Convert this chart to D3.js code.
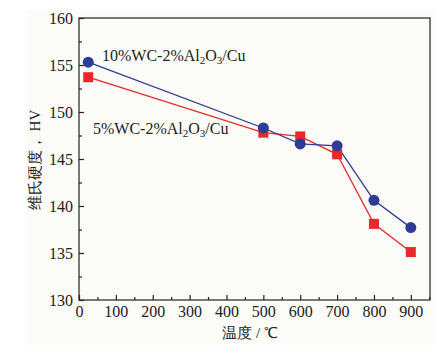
<!DOCTYPE html>
<html><head><meta charset="utf-8">
<script src="https://cdn.jsdelivr.net/npm/d3@7"></script>
<style>body{margin:0;background:#fff}svg text{font-family:"Liberation Serif","Times New Roman",serif;fill:#222}</style>
</head><body><svg id="c" width="441" height="357"></svg>
<script>
const temps = [25, 500, 600, 700, 800, 900];
const hv10 = [155.3, 148.3, 146.6, 146.4, 140.6, 137.7];
const hv5 = [153.7, 147.8, 147.4, 145.5, 138.1, 135.1];
const xTicks = [0,100,200,300,400,500,600,700,800,900];
const yTicks = [130,135,140,145,150,155,160];

const svg = d3.select("#c");
const m = {l:79, r:430, t:18, b:300};
const x = d3.scaleLinear().domain([0, 952]).range([m.l, m.r]);
const y = d3.scaleLinear().domain([130, 160]).range([m.b, m.t]);

svg.append("rect").attr("x",27).attr("y",10).attr("width",406).attr("height",335).attr("fill","#fbfbf8");

// frame
svg.append("rect").attr("x",m.l).attr("y",m.t).attr("width",m.r-m.l).attr("height",m.b-m.t)
  .attr("fill","none").attr("stroke","#222").attr("stroke-width",1.2);

// x axis
const xa = svg.append("g").attr("transform",`translate(0,${m.b})`)
  .call(d3.axisBottom(x).tickValues(xTicks).tickSize(-5).tickFormat(d3.format("d")));
const xm = svg.append("g").attr("transform",`translate(0,${m.b})`)
  .call(d3.axisBottom(x).tickValues(d3.range(50,951,100)).tickSize(-3).tickFormat(""));
[xa,xm].forEach(g=>{g.select(".domain").remove();g.selectAll("line").attr("stroke","#222").attr("stroke-width",1.2);});
xa.selectAll("text").attr("y",6).attr("font-size","16px").attr("fill","#222");

// y axis
const ya = svg.append("g").attr("transform",`translate(${m.l},0)`)
  .call(d3.axisLeft(y).tickValues(yTicks).tickSize(-5));
const ym = svg.append("g").attr("transform",`translate(${m.l},0)`)
  .call(d3.axisLeft(y).tickValues(d3.range(132.5,160,5)).tickSize(-3).tickFormat(""));
[ya,ym].forEach(g=>{g.select(".domain").remove();g.selectAll("line").attr("stroke","#222").attr("stroke-width",1.2);});
ya.selectAll("text").attr("x",-6).attr("font-size","16px").attr("fill","#222");

// labels
svg.append("text").attr("x",250).attr("y",338).attr("text-anchor","middle").attr("font-size","15px")
  .text("温度 / ℃");
svg.append("text").attr("transform","translate(40,160) rotate(-90)").attr("text-anchor","middle").attr("font-size","15px")
  .text("维氏硬度， HV");

const line = d3.line().x((d,i)=>x(temps[i])).y(d=>y(d));
const blue = "#2d3c94", red = "#e8282b";
svg.append("path").datum(hv5).attr("d",line).attr("fill","none").attr("stroke",red).attr("stroke-width",1.3);
svg.append("path").datum(hv10).attr("d",line).attr("fill","none").attr("stroke",blue).attr("stroke-width",1.3);
svg.selectAll(".sq").data(hv5).enter().append("rect")
  .attr("x",(d,i)=>x(temps[i])-5).attr("y",d=>y(d)-5).attr("width",10).attr("height",10).attr("fill",red);
svg.selectAll(".ci").data(hv10).enter().append("circle")
  .attr("cx",(d,i)=>x(temps[i])).attr("cy",d=>y(d)).attr("r",5.5).attr("fill",blue);

function label(tx, ty, pre){
  const t = svg.append("text").attr("x",tx).attr("y",ty).attr("font-size","16px");
  t.append("tspan").text(pre+"WC-2%Al");
  t.append("tspan").attr("font-size","11px").attr("dy",3).text("2");
  t.append("tspan").attr("dy",-3).text("O");
  t.append("tspan").attr("font-size","11px").attr("dy",3).text("3");
  t.append("tspan").attr("dy",-3).text("/Cu");
}
label(102, 61, "10%");
label(93, 134, "5%");
</script></body></html>
